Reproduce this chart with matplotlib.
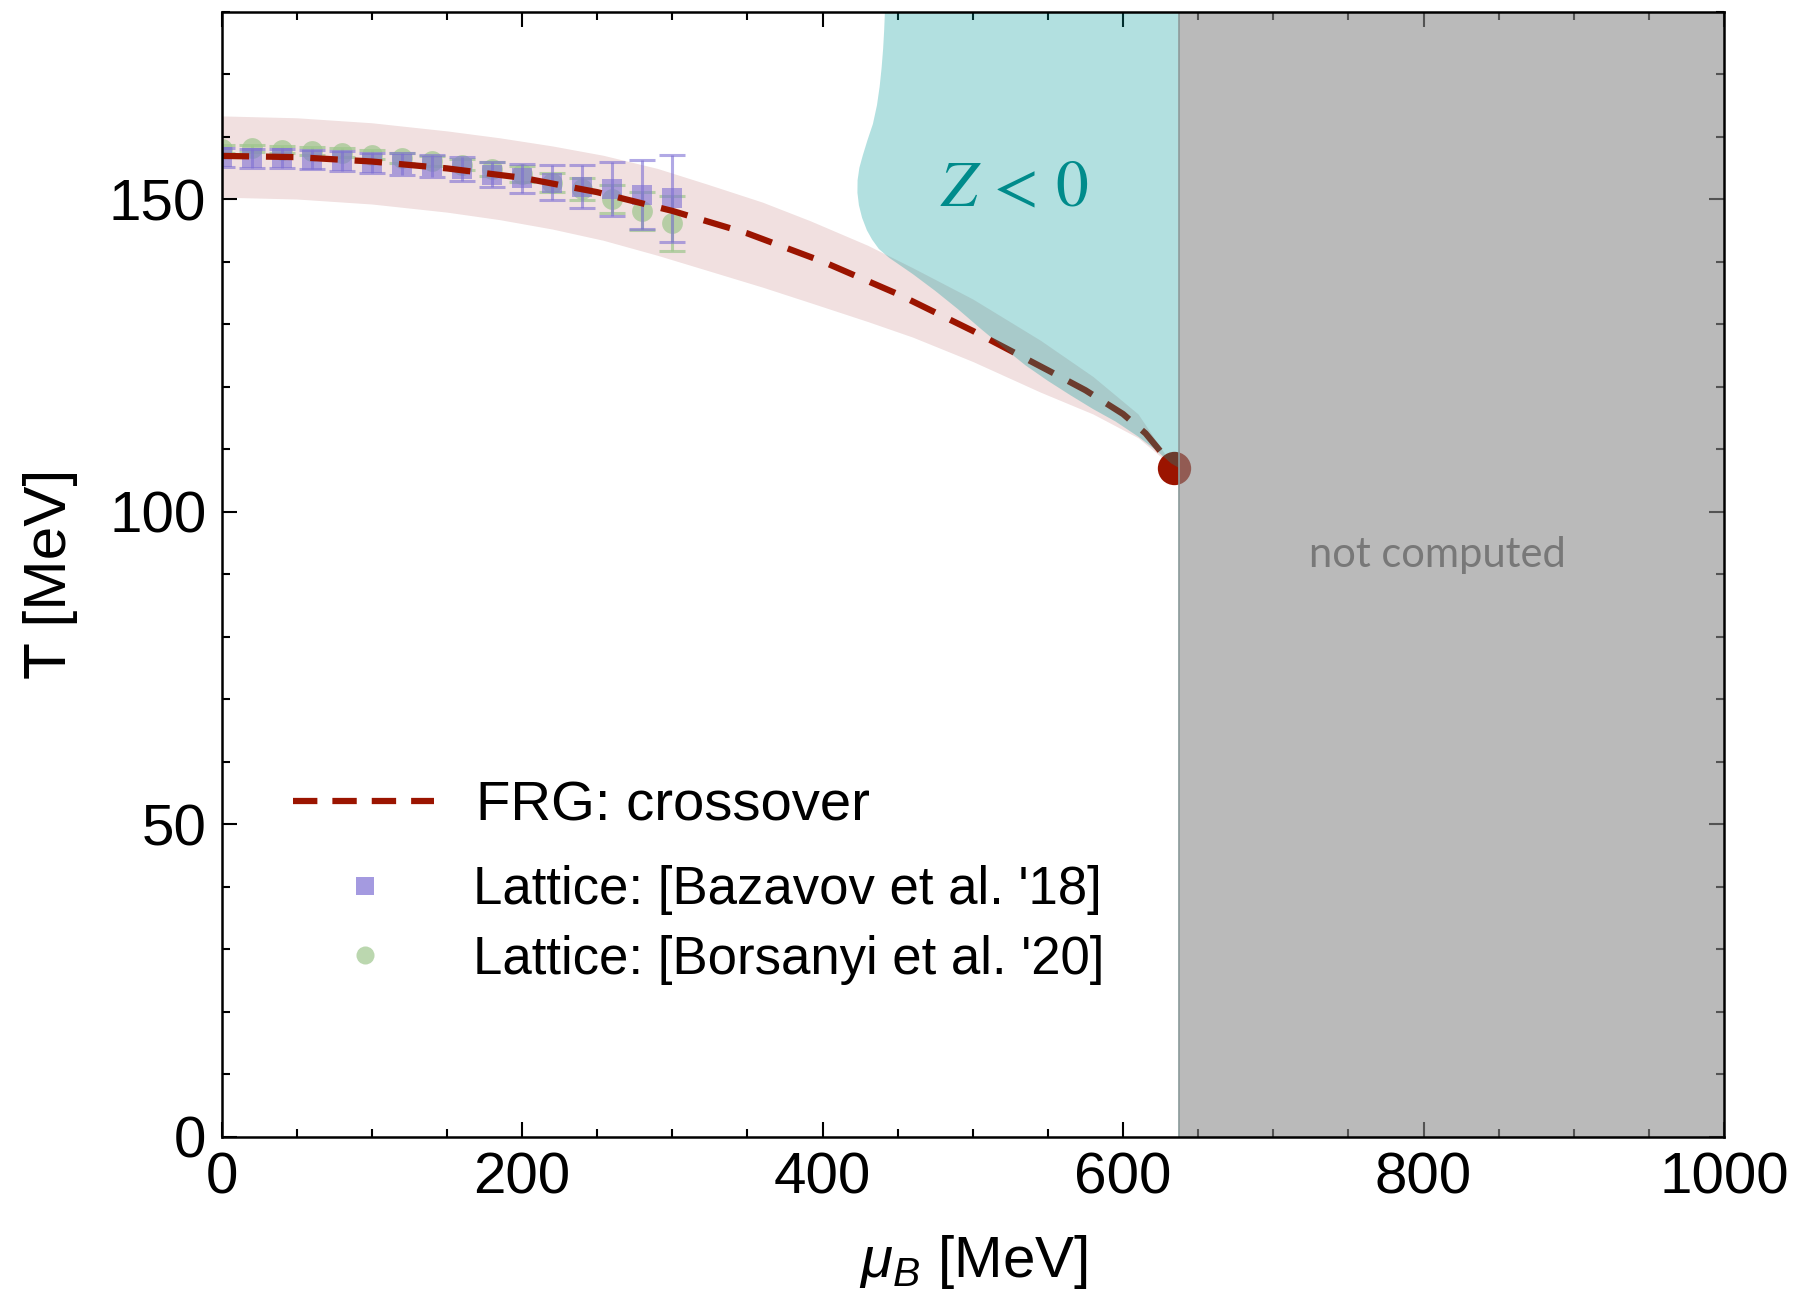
import matplotlib
matplotlib.use("Agg")
import matplotlib.pyplot as plt
from matplotlib.lines import Line2D
import numpy as np

plt.rcParams['font.family'] = ['Liberation Sans', 'DejaVu Sans']
plt.rcParams['mathtext.fontset'] = 'custom'
plt.rcParams['mathtext.rm'] = 'Liberation Sans'
plt.rcParams['mathtext.it'] = 'Liberation Sans:italic'

# ---------------- data ----------------
# FRG crossover line
mu_frg = [0, 50, 100, 150, 200, 250, 300, 350, 400, 450, 500, 550, 575, 600, 615, 634]
T_frg = [156.9, 156.7, 156.0, 154.9, 153.4, 151.1, 148.1, 144.5, 140.0, 134.8, 128.9, 122.6, 119.4, 115.6,
         112.5, 107.0]

# FRG uncertainty band
mu_band = [0, 50, 100, 150, 185, 220, 254, 290, 323, 360, 392, 430, 460, 500, 545, 580, 610, 634]
T_band_up = [163.3, 163.0, 162.2, 160.9, 159.8, 158.5, 157.0, 154.9, 152.4, 149.5, 146.5, 142.6, 139.0, 134.0,
             127.4, 121.6, 115.6, 107.0]
T_band_lo = [150.3, 150.0, 149.2, 147.9, 146.7, 145.2, 143.4, 141.0, 138.6, 135.9, 133.4, 130.4, 127.9, 124.0,
             119.1, 115.6, 111.8, 107.0]

# critical end point
mu_cep = [634]
T_cep = [107.0]

# region with Z < 0 (boundary, top-left edge down to the end point, then up the right edge)
mu_z = [441.5, 441.0, 440.3, 439.3, 438.0, 436.2, 433.5, 430.0, 426.8, 424.5, 423.3, 423.2, 424.2, 426.3,
        429.5, 433.0, 437.5, 444.3, 460.0, 475.0, 490.0, 505.0, 520.0, 535.0, 550.0, 565.0, 580.0,
        595.0, 610.0, 622.0, 632.0, 637.0, 637.0]
T_z = [180.0, 177.0, 174.0, 171.0, 168.0, 165.0, 162.0, 159.5, 157.0, 155.0, 153.0, 151.0, 149.0, 147.0,
       145.0, 143.5, 142.0, 140.6, 138.0, 135.3, 132.4, 129.3, 126.3, 123.4, 120.9, 118.6, 116.4,
       114.4, 112.0, 109.8, 107.7, 107.0, 180.0]

# not computed region
mu_nc = [637, 1000]

# lattice data
mu_lat = [0, 20, 40, 60, 80, 100, 120, 140, 160, 180, 200, 220, 240, 260, 280, 300]
T_baz = [156.7, 156.5, 156.5, 156.3, 156.1, 155.8, 155.6, 155.3, 154.8, 153.9, 153.3, 152.6, 152.0, 151.6, 150.7, 150.1]
err_baz = [1.5, 1.5, 1.5, 1.5, 1.6, 1.6, 1.7, 1.8, 1.9, 2.0, 2.3, 2.8, 3.4, 4.3, 5.5, 7.0]
T_bor = [158.0, 158.1, 157.9, 157.7, 157.4, 157.1, 156.6, 156.1, 155.5, 154.8, 154.0, 152.6, 151.6, 150.0, 148.1, 146.1]
err_bor = [0.6, 0.6, 0.6, 0.6, 0.7, 0.7, 0.8, 0.8, 0.9, 1.1, 1.3, 1.5, 1.8, 2.3, 3.0, 4.4]

xticks = [0, 200, 400, 600, 800, 1000]
yticks = [0, 50, 100, 150]

# ---------------- figure ----------------
fig = plt.figure(figsize=(18, 12.94), dpi=100)
ax = fig.add_axes([0.1231, 0.1217, 0.8347, 0.8694])

red = '#9b1400'
purple = '#7e70d4'
green = '#9ec68d'

ax.fill_between(mu_band, T_band_lo, T_band_up, color=(0.55, 0.0, 0.0), alpha=0.12,
                linewidth=0, zorder=1)

ax.errorbar(mu_lat, T_bor, yerr=err_bor, fmt='none', ecolor=green, alpha=0.7,
            capsize=9.5, elinewidth=2.2, capthick=2.2, zorder=2)
ax.plot(mu_lat, T_bor, 'o', color=green, alpha=0.7, ms=15, mew=0, zorder=2.1)
ax.errorbar(mu_lat, T_baz, yerr=err_baz, fmt='none', ecolor=purple, alpha=0.6,
            capsize=9.5, elinewidth=2.2, capthick=2.2, zorder=2.4)
ax.plot(mu_lat, T_baz, 's', color=purple, alpha=0.6, ms=14.5, mew=0, zorder=2.5)

ax.plot(mu_frg, T_frg, color=red, lw=4.5, linestyle=(0, (4.4, 2.7)),
        dash_capstyle='butt', zorder=3)
ax.plot(mu_cep, T_cep, 'o', color=red, ms=24, mew=0, zorder=4)

ax.fill(mu_z, T_z, color=(0.0, 0.6, 0.6), alpha=0.3, linewidth=0, zorder=5)
ax.axvspan(mu_nc[0], mu_nc[1], color=(0.55, 0.55, 0.55), alpha=0.6, linewidth=0, zorder=6)
ax.axvline(mu_nc[0], color='#8a9a9a', lw=1.2, zorder=6.5)

ax.text(528, 151.6, r'$Z\,<\,0$', math_fontfamily='stix', fontsize=47, color='#008b8b',
        ha='center', va='center', zorder=7)
ax.text(809, 93.0, 'not computed', family=['Lato', 'DejaVu Sans'], fontsize=30,
        color='#787878', ha='center', va='center', zorder=7)

ax.set_xlim(0, 1000)
ax.set_ylim(0, 180)
ax.set_xticks(xticks)
ax.set_yticks(yticks)
ax.set_xticks(np.arange(0, 1001, 50), minor=True)
ax.set_yticks(np.arange(0, 181, 10), minor=True)
ax.tick_params(which='both', direction='in', top=True, right=True, width=1.5)
ax.tick_params(which='major', length=11, labelsize=42, pad=11)
ax.tick_params(which='minor', length=6)
for s in ax.spines.values():
    s.set_linewidth(1.8)
    s.set_zorder(8)

ax.set_xlabel(r'$\mu_B$ [MeV]', fontsize=42, va='baseline')
ax.xaxis.set_label_coords(0.5, -0.1245)
ax.set_ylabel('T [MeV]', fontsize=43.5, labelpad=22)

h1 = [Line2D([], [], color=red, lw=4.5, linestyle=(0, (3.9, 2.4)), dash_capstyle='butt')]
leg1 = ax.legend(h1, ['FRG: crossover'], loc='center left', bbox_to_anchor=(0.0475, 0.2931),
                 frameon=False, fontsize=40.5, handlelength=2.505, handletextpad=0.75,
                 borderpad=0, borderaxespad=0)
ax.add_artist(leg1)
h2 = [Line2D([], [], marker='s', color=purple, alpha=0.7, ms=13, mew=0, ls='none'),
      Line2D([], [], marker='o', color=green, alpha=0.7, ms=13, mew=0, ls='none')]
ax.legend(h2, ["Lattice: [Bazavov et al. '18]", "Lattice: [Borsanyi et al. '20]"],
          loc='center left', bbox_to_anchor=(0.06, 0.188), frameon=False, fontsize=38,
          handlelength=2.0, handletextpad=1.05, borderpad=0, borderaxespad=0,
          labelspacing=0.37)

fig.savefig('out.png', dpi=100)
